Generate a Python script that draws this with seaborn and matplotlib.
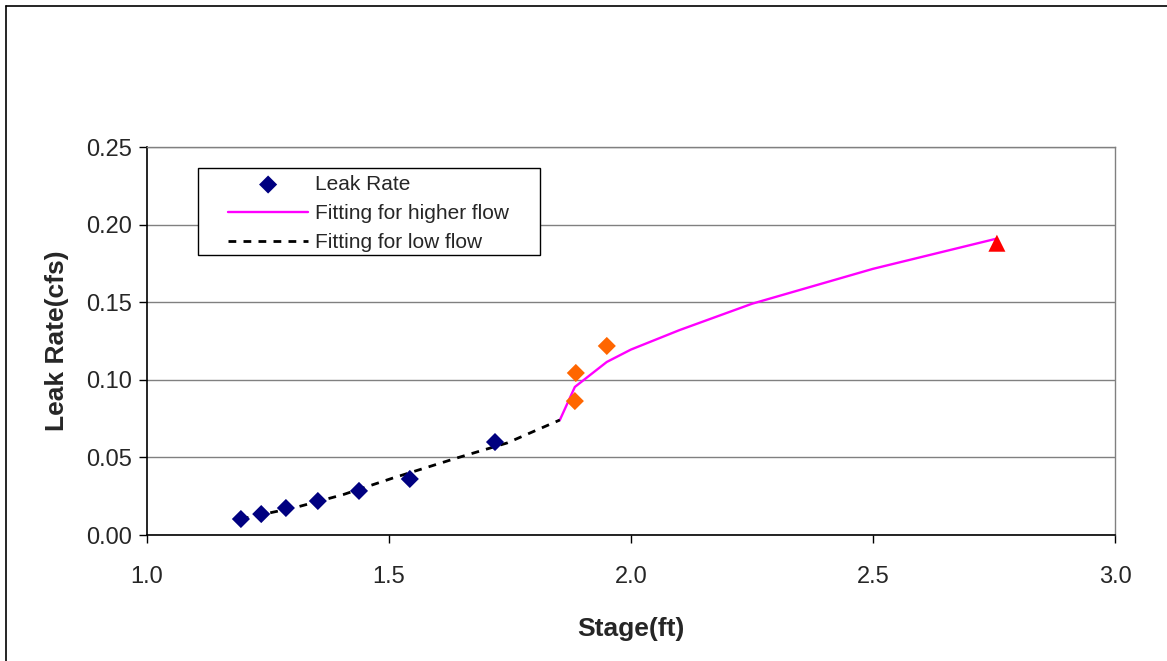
import matplotlib
matplotlib.use("Agg")
import matplotlib.pyplot as plt
import seaborn as sns

# measured leak rate points
stage_low = [1.194, 1.236, 1.287, 1.353, 1.438, 1.543, 1.719]
leak_low = [0.0103, 0.0135, 0.0174, 0.0219, 0.0284, 0.0361, 0.0599]

stage_high = [1.884, 1.886, 1.950]
leak_high = [0.0863, 0.1044, 0.1218]

stage_max = [2.756]
leak_max = [0.188]

# fitted curves
fit_low_x = [1.194, 1.310, 1.405, 1.508, 1.640, 1.744, 1.853]
fit_low_y = [0.0103, 0.018, 0.026, 0.0367, 0.0496, 0.0593, 0.0741]

fit_high_x = [1.853, 1.884, 1.950, 2.0, 2.1, 2.25, 2.5, 2.756]
fit_high_y = [0.0741, 0.0954, 0.1115, 0.1195, 0.132, 0.149, 0.1715, 0.191]

sns.set_style("white")
plt.rcParams['font.family'] = ['Liberation Sans', 'DejaVu Sans']

fig = plt.figure(figsize=(11.67, 6.61), dpi=100)
ax = fig.add_axes([147/1167, 1-535/661, (1115-147)/1167, (535-147)/661])

sns.lineplot(x=fit_high_x, y=fit_high_y, ax=ax, color='#ff00ff', lw=1.7,
             sort=False, label='Fitting for higher flow', zorder=2)
sns.lineplot(x=fit_low_x, y=fit_low_y, ax=ax, color='black', lw=2,
             sort=False, label='Fitting for low flow', zorder=2)
ax.lines[-1].set_dashes([2.8, 2.6])
sns.scatterplot(x=stage_low, y=leak_low, ax=ax, marker='D', s=85,
                color='#000080', edgecolor='none', label='Leak Rate', zorder=3)
sns.scatterplot(x=stage_high, y=leak_high, ax=ax, marker='D', s=85,
                color='#ff6600', edgecolor='none', zorder=3)
sns.scatterplot(x=stage_max, y=leak_max, ax=ax, marker='^', s=150,
                color='#ff0000', edgecolor='none', zorder=3)

ax.set_xlim(1.0, 3.0)
ax.set_ylim(0.0, 0.25)
ax.set_xticks([1.0, 1.5, 2.0, 2.5, 3.0])
ax.set_yticks([0.0, 0.05, 0.10, 0.15, 0.20, 0.25])
ax.set_xticklabels(['1.0', '1.5', '2.0', '2.5', '3.0'])
ax.set_yticklabels(['0.00', '0.05', '0.10', '0.15', '0.20', '0.25'])
ax.yaxis.grid(True, color='#808080', lw=1)
ax.set_axisbelow(True)
for s in ['top', 'right']:
    ax.spines[s].set_color('#808080')
    ax.spines[s].set_linewidth(1)
for s in ['left', 'bottom']:
    ax.spines[s].set_color('black')
    ax.spines[s].set_linewidth(1.2)
ax.tick_params(axis='both', direction='out', length=6, width=1, color='black',
               labelsize=17, bottom=True, left=True, pad=5)
ax.tick_params(axis='x', pad=16)
ax.set_xlabel('Stage(ft)', fontsize=19, fontweight='bold', labelpad=21)
ax.set_ylabel('Leak Rate(cfs)', fontsize=19, fontweight='bold', labelpad=12)

# legend frame (Excel style box, wider than its contents)
ax.add_patch(plt.Rectangle(((198-147)/968, (535-255)/388), (540-198)/968, (255-168)/388,
                           transform=ax.transAxes, facecolor='white', edgecolor='black',
                           lw=1, zorder=4))

handles, labels = ax.get_legend_handles_labels()
order = [labels.index('Leak Rate'), labels.index('Fitting for higher flow'),
         labels.index('Fitting for low flow')]
leg = ax.legend([handles[i] for i in order], [labels[i] for i in order],
                loc='upper left', bbox_to_anchor=((228-147)/968, (535-175)/388),
                fontsize=15, frameon=False, borderpad=0, labelspacing=0.48,
                handlelength=3.85, handletextpad=0.34, borderaxespad=0)
leg.set_zorder(5)

# chart area border (top and left visible)
fig.add_artist(plt.Line2D([6/1167, 1], [1-6/661, 1-6/661], transform=fig.transFigure,
                          color='black', lw=1.2))
fig.add_artist(plt.Line2D([6/1167, 6/1167], [0, 1-6/661], transform=fig.transFigure,
                          color='black', lw=1.2))
fig.savefig('out.png', dpi=100, facecolor='white')
